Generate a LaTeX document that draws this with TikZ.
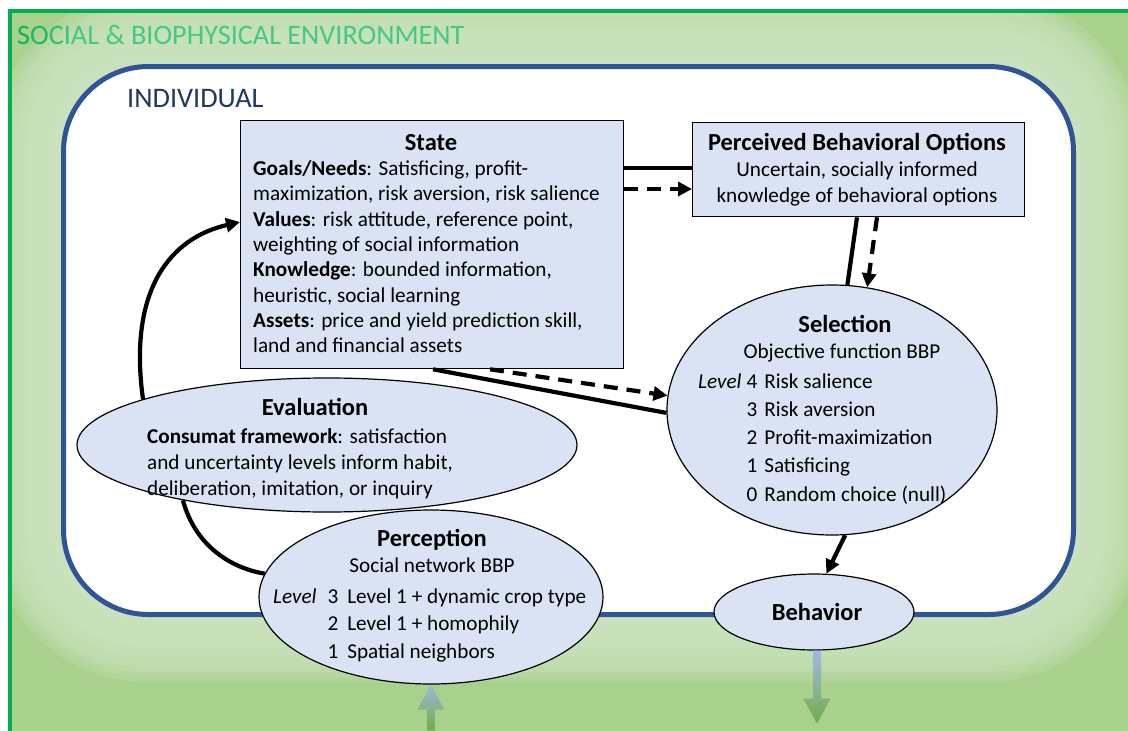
\documentclass[tikz,border=0pt]{standalone}
\usepackage{fontspec}
\setmainfont{Carlito}
\usetikzlibrary{shapes.geometric,arrows.meta,calc}

\definecolor{envdark}{HTML}{A9D18E}
\definecolor{envlight}{HTML}{CDE5C0}
\definecolor{envline}{HTML}{00B050}
\definecolor{envtext}{HTML}{45C882}
\definecolor{indline}{HTML}{2F5597}
\definecolor{indtext}{HTML}{1F3864}
\definecolor{boxfill}{HTML}{DAE3F3}
\definecolor{arrblue}{HTML}{9DB8DC}
\definecolor{arrgreen}{HTML}{70AD47}

\newcommand\bodysize[1]{\fontsize{21.2}{#1}\selectfont}
\newcommand\titlesize{\fontsize{24.5}{28}\selectfont\bfseries}

\tikzset{
  box/.style={draw=black, line width=1.3, fill=boxfill, inner sep=0, anchor=north west},
  oval/.style={ellipse, draw=black, line width=1.2, fill=boxfill, inner sep=0},
  heading/.style={anchor=base, inner sep=0, font=\titlesize},
  link/.style={line width=4.2, draw=black},
  dlink/.style={line width=4.2, draw=black, dash pattern=on 14pt off 9pt},
  tip/.style={-{Triangle[length=14pt,width=14pt]}},
}

\begin{document}
\begin{tikzpicture}[x=1pt,y=-1pt]
\useasboundingbox (0,0) rectangle (1128,731);
\fill[white] (0,0) rectangle (1128,731);

% social & biophysical environment: green field with a soft glow around the individual
\fill[envdark] (9.5,11) rectangle (1128,731);
\begin{scope}
  \clip (9.5,11) rectangle (1128,731);
  \foreach \w in {140,130,...,10}
    \draw[envlight, line width=\w pt, opacity=0.22, rounded corners=85] (61,64) rectangle (1071,612);
\end{scope}
\draw[envline, line width=4] (9.5,731) -- (9.5,11) -- (1128,11);
\node[anchor=base west, inner sep=0, text=envtext, font=\fontsize{28.2}{30}\selectfont] (envlabel) at (17,44)
  {\textcolor{envline!85!envtext}{S}\textcolor{envline!60!envtext}{O}\textcolor{envline!35!envtext}{C}\textcolor{envline!15!envtext}{I}AL \& BIOPHYSICAL ENVIRONMENT};

% the individual
\node[draw=indline, line width=5, fill=white, rounded corners=85, minimum width=1010, minimum height=548, anchor=north west, inner sep=0] (indiv) at (61,64) {};
\node[anchor=base west, inner sep=0, text=indtext, font=\fontsize{28.3}{30}\selectfont] (indlabel) at (127,107) {INDIVIDUAL};

% state
\node[box, minimum width=383, minimum height=248] (state) at (240,120) {};
\node[heading] (statehead) at (431,150) {State};
\node[anchor=base west, inner sep=0, align=left, font=\bodysize{25.3}] (statebody) at (253,352.6)
  {\textbf{Goals/Needs}: Satisficing, profit-\\
   maximization, risk aversion, risk salience\\
   \textbf{Values}: risk attitude, reference point,\\
   weighting of social information\\
   \textbf{Knowledge}: bounded information,\\
   heuristic, social learning\\
   \textbf{Assets}: price and yield prediction skill,\\
   land and financial assets};

% perceived behavioral options
\node[box, minimum width=332, minimum height=94] (pbo) at (692,122) {};
\node[heading] (pbohead) at (857,150) {Perceived Behavioral Options};
\node[anchor=base, inner sep=0, align=center, font=\bodysize{26}] (pbobody) at (857,202)
  {Uncertain, socially informed\\knowledge of behavioral options};

% selection
\node[oval, minimum width=330, minimum height=250] (sel) at (832,410) {};
\node[heading] (selhead) at (845,332) {Selection};
\node[anchor=base, inner sep=0, font=\bodysize{26}] (selsub) at (842,358) {Objective function BBP};
\node[anchor=base west, inner sep=0, font=\bodysize{28.3}] (sellevels) at (698,388)
  {\begin{tabular}[t]{@{}l@{\hspace{5pt}}l@{\hspace{7pt}}l@{}}
   \textit{Level} & 4 & Risk salience\\
                  & 3 & Risk aversion\\
                  & 2 & Profit-maximization\\
                  & 1 & Satisficing\\
                  & 0 & Random choice (null)
   \end{tabular}};

% evaluation
\node[oval, minimum width=500, minimum height=134] (eval) at (327,445) {};
\node[heading] (evalhead) at (315,415) {Evaluation};
\node[anchor=base west, inner sep=0, align=left, font=\bodysize{26}] (evalbody) at (147,495)
  {\textbf{Consumat framework}: satisfaction\\
   and uncertainty levels inform habit,\\
   deliberation, imitation, or inquiry};

% perception
\node[oval, minimum width=344, minimum height=174] (perc) at (431,597) {};
\node[heading] (perchead) at (432,546) {Perception};
\node[anchor=base, inner sep=0, font=\bodysize{26}] (percsub) at (432,572) {Social network BBP};
\node[anchor=base west, inner sep=0, font=\bodysize{27.5}] (perclevels) at (273,603)
  {\begin{tabular}[t]{@{}l@{\hspace{11pt}}l@{\hspace{9pt}}l@{}}
   \textit{Level} & 3 & Level 1 + dynamic crop type\\
                  & 2 & Level 1 + homophily\\
                  & 1 & Spatial neighbors
   \end{tabular}};

% behavior
\node[oval, minimum width=200, minimum height=76] (beh) at (814,612) {};
\node[heading] (behhead) at (817,620) {Behavior};

% flows between the parts of the individual
\draw[link] ($(state.north east)+(0,48)$) -- ($(pbo.north west)+(0,46)$);
\draw[dlink, tip] ($(state.north east)+(0,69)$) -- ($(pbo.north west)+(0,67)$);
\draw[link] ($(pbo.south west)+(165,0)$) -- (sel.83.9);
\draw[dlink, tip] ($(pbo.south west)+(185,0)$) -- (sel.74.2);
\draw[link] ($(state.south west)+(193,0)$) -- (sel.181);
\draw[dlink, tip] ($(state.south west)+(250,0)$) -- (sel.175);
\draw[link, tip] (sel.276.4) -- (beh.72);
\draw[link, tip] (eval.166.5) .. controls (128,290) and (170,238) .. ($(state.north west)+(0,102)$);
\draw[link] (eval.201) .. controls (195,545) and (230,568) .. (perc.172);

% exchange with the environment
\coordinate (intip) at (perc.south);
\shade[top color=arrblue, bottom color=arrgreen]
  ($(intip)+(-3.8,46)$) -- ($(intip)+(-3.8,25)$) -- ($(intip)+(-13.5,25)$) -- (intip)
  -- ($(intip)+(13.5,25)$) -- ($(intip)+(3.8,25)$) -- ($(intip)+(3.8,46)$) -- cycle;
\coordinate (outtop) at ($(beh.south)+(3,0)$);
\shade[top color=arrblue!90!blue!80!white, bottom color=arrgreen]
  ($(outtop)+(-4,0)$) -- ($(outtop)+(-4,48)$) -- ($(outtop)+(-13.5,48)$) -- ($(outtop)+(0,73)$)
  -- ($(outtop)+(13.5,48)$) -- ($(outtop)+(4,48)$) -- ($(outtop)+(4,0)$) -- cycle;
\end{tikzpicture}
\end{document}
